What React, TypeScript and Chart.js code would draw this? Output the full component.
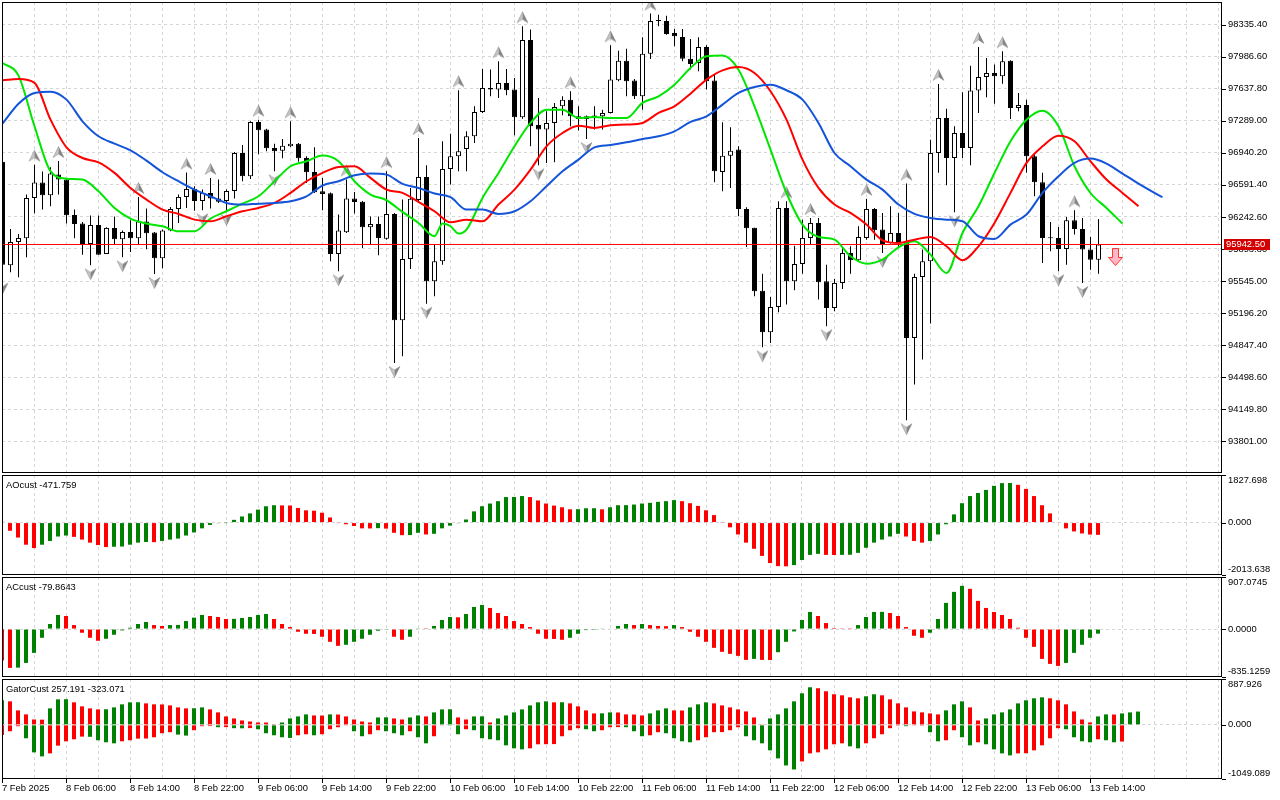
import React, { useEffect, useRef } from 'react';
import { Chart, registerables } from 'chart.js';

Chart.register(...registerables);

// ---------------- DATA ----------------
const opens = [96844,95716,95970,96010,96449,96616,96478,96703,96649,96264,96170,95948,96155,95839,96123,95999,96079,96010,96192,96072,95792,96094,96329,96460,96547,96416,96504,96442,96416,96525,96938,96685,97276,97193,96993,96964,97011,97040,96884,96732,96522,96500,95839,96076,96442,96409,96130,96166,96006,96275,95118,95785,96427,96678,95542,95760,96765,96902,96982,97120,97385,97646,97628,97701,97628,97327,98168,97243,97193,97265,97446,97519,97338,97309,97331,97338,97374,97730,97943,97726,97556,98019,98375,98375,98244,98201,97965,97918,98092,97726,96732,96909,96975,96329,96126,95440,94987,95263,96340,95542,95730,96014,96177,95542,95252,95524,95850,95770,96014,96329,96105,95959,96068,95959,94926,95589,95760,96938,97320,96884,97156,96993,97617,97766,97809,97773,97943,97428,97461,96902,96620,96014,96014,95894,96206,96112,95887,95777];
const highs = [96866,96112,96057,96486,96811,96736,96783,96851,96656,96322,96188,96257,96257,96130,96246,96094,96206,96460,96333,96079,96105,96351,96486,96725,96576,96540,96667,96649,96540,96949,97025,97283,97301,97203,97040,97091,97283,97047,96902,97000,96667,96507,96268,96650,96515,96416,96246,96246,96740,96286,96431,96558,97102,96804,95941,97065,97149,97621,97174,97446,97853,97846,97936,97853,97755,98317,98281,97537,97392,97483,97556,97610,97446,97345,97446,97410,98110,98052,98074,97744,98197,98455,98444,98433,98288,98288,98179,98197,98110,97791,97272,97218,97011,96347,96126,95625,95371,96413,96413,95930,96213,96231,96231,95723,95567,95905,95923,96141,96439,96340,96286,96358,96286,96605,95625,95887,97083,97690,97421,97229,97599,97889,98092,97972,97900,98045,97947,97592,97519,96920,96722,96188,96134,96242,96315,96231,96025,96221];
const lows = [95560,95640,95585,95803,96282,96322,96358,96486,96170,96010,95832,95716,95832,95839,95948,95803,95861,95948,95890,95622,95683,96086,96177,96340,96311,96315,96333,96395,96308,96442,96631,96656,96924,96957,96740,96880,97004,96844,96613,96504,96315,95760,95651,96068,96279,95905,95941,95825,95995,94654,94726,95676,96395,95299,95379,95723,96595,96740,96740,97047,97374,97556,97537,97566,97131,97312,97011,96804,96830,96837,97349,97229,97182,97091,97193,97193,97367,97719,97556,97526,97410,97961,98317,98226,98099,97936,97846,97828,97628,96620,96522,96558,96250,95916,95379,94824,94871,95205,95289,95444,95625,95941,95343,95053,95216,95458,95625,95760,95995,95995,95850,95952,95905,94030,94418,94690,95082,96722,96587,96293,96884,96804,97374,97544,97475,97693,97309,97392,96722,96467,95741,95868,95651,95723,96050,95524,95669,95625];
const closes = [95723,95970,96014,96449,96616,96478,96714,96649,96261,96166,95948,96155,95832,96123,95999,96079,96010,96192,96064,95792,96094,96329,96460,96547,96416,96504,96442,96409,96525,96938,96685,97276,97185,96989,96957,97018,97040,96880,96729,96511,96493,95839,96094,96442,96406,96130,96166,96014,96275,95118,95785,96439,96678,95542,95760,96765,96902,96957,97120,97385,97646,97628,97701,97621,97327,98168,97229,97193,97265,97439,97519,97338,97309,97338,97345,97374,97737,97943,97719,97556,98019,98375,98375,98233,98208,97965,97907,98092,97719,96740,96909,96964,96329,96119,95433,94987,95263,96340,95542,95730,96014,96177,95531,95252,95524,95850,95770,96024,96329,96097,95948,96068,95959,94926,95589,95760,96938,97320,96884,97156,96993,97617,97766,97809,97773,97936,97428,97461,96902,96620,96014,96010,95894,96206,96112,95887,95777,95942.5];

const bidPrice = 95942.5;
const bidText = '95942.50';
const sellArrowBar = 139;

const upFractalBars = [4,7,17,23,26,32,36,43,48,52,57,62,65,71,76,81,98,101,108,113,117,122,125,134];
const downFractalBars = [0,11,15,19,25,28,34,42,49,53,67,73,95,103,110,113,119,132,135];

const jawLine = [[0,97258],[2,97475],[4,97592],[6,97606],[8,97519],[10,97283],[12,97120],[14,97040],[16,96967],[18,96855],[20,96729],[22,96631],[24,96540],[26,96467],[28,96395],[30,96377],[32,96387],[34,96395],[36,96413],[38,96467],[40,96584],[42,96631],[44,96696],[46,96714],[48,96703],[50,96602],[52,96558],[54,96497],[56,96457],[58,96322],[60,96322],[62,96275],[64,96304],[66,96413],[68,96576],[70,96740],[72,96866],[74,97000],[76,97025],[78,97054],[80,97091],[82,97120],[84,97174],[86,97276],[88,97338],[90,97465],[92,97592],[94,97657],[96,97682],[98,97621],[100,97519],[102,97265],[104,96938],[106,96794],[108,96649],[110,96540],[112,96377],[114,96275],[116,96231],[118,96213],[120,96195],[122,96032],[124,96003],[126,96159],[128,96268],[130,96504],[132,96685],[134,96830],[136,96877],[138,96823],[140,96714],[142,96605],[144,96504],[145,96457]];
const teethLine = [[0,97730],[2,97744],[4,97701],[6,97301],[8,97000],[10,96884],[12,96837],[14,96722],[16,96558],[18,96431],[20,96322],[22,96275],[24,96213],[26,96195],[28,96250],[30,96304],[32,96340],[34,96395],[36,96504],[38,96631],[40,96722],[42,96786],[44,96794],[46,96667],[48,96540],[50,96504],[52,96406],[54,96304],[56,96184],[58,96213],[60,96195],[62,96377],[64,96540],[66,96757],[68,97011],[70,97156],[72,97236],[74,97211],[76,97240],[78,97247],[80,97265],[82,97374],[84,97446],[86,97584],[88,97737],[90,97838],[92,97874],[94,97809],[96,97610],[98,97301],[100,96866],[102,96558],[104,96377],[106,96286],[108,96159],[110,95988],[112,95959],[114,95995],[116,96025],[118,95923],[120,95771],[122,95923],[124,96177],[126,96504],[128,96830],[130,97011],[132,97127],[134,97065],[136,96848],[138,96649],[140,96504],[142,96358]];
const lipsLine = [[0,97918],[2,97780],[4,97229],[6,96740],[8,96659],[10,96649],[12,96522],[14,96340],[16,96224],[18,96170],[20,96141],[22,96086],[24,96086],[26,96224],[28,96304],[30,96387],[32,96467],[34,96631],[36,96794],[38,96848],[40,96910],[42,96848],[44,96631],[46,96486],[48,96424],[50,96297],[52,96177],[54,96032],[55,96170],[56,96141],[57,96061],[58,96105],[60,96449],[62,96721],[64,97011],[66,97265],[68,97410],[70,97410],[72,97319],[74,97330],[76,97319],[78,97319],[80,97483],[82,97555],[84,97682],[86,97864],[88,97990],[90,97998],[92,97845],[94,97446],[96,96975],[98,96503],[100,96159],[102,96025],[104,95996],[106,95814],[108,95734],[110,95778],[112,95912],[114,95977],[116,95832],[118,95633],[120,96068],[122,96358],[124,96721],[126,97066],[128,97301],[130,97399],[132,97229],[134,96794],[136,96503],[138,96340],[140,96170]];

const aoValues = [30,-314,-575,-850,-980,-850,-706,-536,-497,-549,-654,-771,-863,-941,-928,-920,-850,-771,-745,-752,-706,-654,-614,-497,-379,-222,-91,-26,-5,105,235,353,497,627,667,660,655,562,471,457,379,196,-10,-65,-131,-222,-225,-215,-232,-392,-484,-480,-392,-457,-431,-222,-118,-26,118,431,627,732,823,980,985,1019,980,850,732,653,588,510,515,549,552,510,588,667,670,693,732,758,797,823,863,823,745,640,471,288,10,-183,-457,-771,-1006,-1281,-1555,-1673,-1680,-1634,-1438,-1242,-1202,-1242,-1245,-1241,-1236,-1163,-967,-771,-654,-536,-431,-536,-706,-771,-706,-457,-65,314,745,1019,1137,1255,1412,1516,1520,1451,1294,1019,667,353,15,-222,-340,-418,-460,-471.759];
const acValues = [-549,-677,-672,-590,-415,-152,88,245,228,70,-64,-152,-204,-169,-99,-23,23,88,123,70,53,70,72,140,199,245,228,210,175,178,193,210,245,263,175,88,35,-47,-82,-85,-134,-222,-292,-274,-222,-169,-99,-29,-5,-134,-187,-134,12,3,53,158,210,205,263,385,420,368,280,228,140,88,35,-82,-169,-172,-187,-152,-82,-18,-2,6,8,53,88,70,88,70,53,50,70,35,-47,-134,-222,-327,-397,-432,-467,-537,-520,-537,-540,-403,-222,-41,158,298,228,105,18,4,3,70,210,298,300,280,228,35,-117,-152,-64,175,456,648,753,701,491,368,298,245,175,23,-152,-310,-520,-607,-642,-590,-415,-274,-152,-79.8643];
const gatorUpper = [475,455,280,202,104,100,319,494,497,436,358,319,299,302,338,397,436,438,416,397,395,377,338,319,321,338,299,241,163,124,85,65,46,44,6,46,124,163,202,182,180,202,200,163,104,65,46,143,146,124,104,143,182,163,241,299,301,143,104,163,165,46,124,182,241,299,377,436,455,436,438,416,358,280,221,223,241,239,202,200,182,221,280,319,280,278,338,397,436,416,377,338,299,260,143,13,124,202,319,455,611,728,709,650,592,572,533,514,553,592,572,494,416,338,260,241,221,202,280,397,455,338,85,124,202,241,299,416,475,514,533,514,475,397,260,104,46,163,202,200,221,241,257.191];
const gatorLower = [-195,-124,-26,-260,-533,-611,-553,-403,-319,-280,-228,-232,-299,-338,-358,-319,-299,-267,-265,-241,-163,-143,-189,-208,-104,-26,-24,-46,-44,-65,-67,-63,-85,-163,-202,-241,-254,-202,-182,-202,-182,-85,-46,-6,-124,-221,-182,-104,-124,-163,-202,-124,-241,-358,-221,-13,-15,-182,-85,-104,-260,-280,-299,-397,-455,-475,-455,-377,-375,-373,-221,-104,-65,-85,-124,-104,-46,-44,-46,-124,-221,-202,-143,-163,-260,-319,-338,-299,-241,-143,-141,-104,-46,-221,-299,-358,-494,-650,-787,-865,-709,-553,-533,-475,-377,-358,-416,-455,-358,-260,-182,-65,-3,-26,-6,-2,-143,-319,-299,-104,-241,-397,-338,-377,-475,-553,-592,-553,-550,-494,-397,-260,-65,-85,-241,-319,-338,-280,-299,-338,-323.071];

const priceTicks = [98335.40,97986.60,97637.80,97289.00,96940.20,96591.40,96242.60,95893.80,95545.00,95196.20,94847.40,94498.60,94149.80,93801.00];
const aoTicks = [1827.698, 0, -2013.638];
const acTicks = [907.0745, 0, -835.1259];
const gatorTicks = [887.926, 0, -1049.089];
const aoTickText = ['1827.698', '0.000', '-2013.638'];
const acTickText = ['907.0745', '0.0000', '-835.1259'];
const gatorTickText = ['887.926', '0.000', '-1049.089'];

const timeLabelBars = [0,8,16,24,32,40,48,56,64,72,80,88,96,104,112,120,128,136];
const timeLabels = ['7 Feb 2025','8 Feb 06:00','8 Feb 14:00','8 Feb 22:00','9 Feb 06:00','9 Feb 14:00','9 Feb 22:00','10 Feb 06:00','10 Feb 14:00','10 Feb 22:00','11 Feb 06:00','11 Feb 14:00','11 Feb 22:00','12 Feb 06:00','12 Feb 14:00','12 Feb 22:00','13 Feb 06:00','13 Feb 14:00'];

const aoTitle = 'AOcust -471.759';
const acTitle = 'ACcust -79.8643';
const gatorTitle = 'GatorCust 257.191 -323.071';

// ---------------- STYLE ----------------
const GREEN = '#008000';
const RED = '#ff0000';
const GRID = '#d6d6d6';
const FONT = '9.4px "Liberation Sans", Arial, sans-serif';
const VISIBLE_BARS = 152.5;
const gridBars = Array.from({ length: 39 }, (_, k) => k * 4);

function xScale(min: number) {
  return {
    type: 'linear',
    min,
    max: min + VISIBLE_BARS,
    offset: false,
    grid: { offset: false, color: GRID, lineWidth: 1, drawTicks: false },
    border: { display: false, dash: [3, 3] },
    ticks: { display: false },
    afterBuildTicks: (s: any) => { s.ticks = gridBars.map((v) => ({ value: v })); },
  };
}

function yScale(min: number, max: number, vals: number[], z = 0) {
  return {
    position: 'right',
    min,
    max,
    z,
    afterFit: (s: any) => { s.width = 58; },
    afterBuildTicks: (s: any) => { s.ticks = vals.map((v) => ({ value: v })); },
    ticks: { display: false },
    grid: { color: GRID, lineWidth: 1, drawTicks: false },
    border: { display: false, dash: [3, 3] },
  };
}

function trendColors(vals: number[], first: string) {
  return vals.map((v, i) => (i === 0 ? first : v > vals[i - 1] ? GREEN : RED));
}
function magnitudeColors(vals: number[], first: string) {
  return vals.map((v, i) => (i === 0 ? first : Math.abs(v) > Math.abs(vals[i - 1]) ? GREEN : RED));
}

function makeArrow(up: boolean) {
  const c = document.createElement('canvas');
  c.width = 13;
  c.height = 40;
  const g = c.getContext('2d')!;
  const cy = up ? 11 : 29;
  const s = up ? 1 : -1;
  const tip = cy - 5.5 * s;
  const base = cy + 5.5 * s;
  const notch = cy + 2 * s;
  g.beginPath();
  g.moveTo(6.5, tip); g.lineTo(1, base); g.lineTo(6.5, notch); g.closePath();
  g.fillStyle = '#c4c4c4'; g.fill();
  g.beginPath();
  g.moveTo(6.5, tip); g.lineTo(12, base); g.lineTo(6.5, notch); g.closePath();
  g.fillStyle = '#858585'; g.fill();
  g.beginPath();
  g.moveTo(6.5, tip); g.lineTo(1, base); g.lineTo(6.5, notch); g.lineTo(12, base); g.closePath();
  g.strokeStyle = 'rgba(110,110,110,0.6)'; g.lineWidth = 0.6; g.stroke();
  return c;
}

function panelPlugin(vals: number[], texts: string[], title?: string, withTime?: boolean) {
  return {
    id: 'panelDeco',
    afterDraw(chart: any) {
      const { ctx, chartArea: a, scales } = chart;
      const y = scales.y;
      const x = scales.x;
      ctx.save();
      ctx.strokeStyle = '#000';
      ctx.lineWidth = 1;
      ctx.strokeRect(a.left + 0.5, a.top + 0.5, a.right - a.left - 1, a.bottom - a.top - 1);
      ctx.font = FONT;
      ctx.fillStyle = '#000';
      ctx.textBaseline = 'middle';
      ctx.textAlign = 'left';
      vals.forEach((v, i) => {
        const py = y.getPixelForValue(v);
        const ly = Math.round(py) + 0.5;
        ctx.beginPath();
        ctx.moveTo(a.right, ly);
        ctx.lineTo(a.right + 4, ly);
        ctx.stroke();
        const ty = Math.min(Math.max(py, a.top + 5), a.bottom - 6);
        ctx.fillText(texts[i], a.right + 6, ty);
      });
      if (title) ctx.fillText(title, a.left + 4, a.top + 10);
      if (withTime) {
        timeLabelBars.forEach((b, i) => {
          const px = x.getPixelForValue(b);
          const lx = Math.round(px) + 0.5;
          ctx.beginPath();
          ctx.moveTo(lx, a.bottom);
          ctx.lineTo(lx, a.bottom + 4);
          ctx.stroke();
          ctx.fillText(timeLabels[i], Math.round(px), a.bottom + 9);
        });
      }
      ctx.restore();
    },
  };
}

const bidPlugin = {
  id: 'bidTag',
  afterDraw(chart: any) {
    const { ctx, chartArea: a, scales } = chart;
    const py = scales.y.getPixelForValue(bidPrice);
    ctx.save();
    ctx.fillStyle = '#d20000';
    ctx.fillRect(a.right + 2, Math.round(py) - 5, 46, 11);
    ctx.font = FONT;
    ctx.fillStyle = '#ffffff';
    ctx.textBaseline = 'middle';
    ctx.textAlign = 'left';
    ctx.fillText(bidText, a.right + 4, Math.round(py) + 0.5);
    const ax = Math.round(scales.x.getPixelForValue(sellArrowBar)) + 0.5;
    const top = Math.round(py) + 4.5;
    ctx.beginPath();
    ctx.moveTo(ax - 3, top);
    ctx.lineTo(ax + 3, top);
    ctx.lineTo(ax + 3, top + 9);
    ctx.lineTo(ax + 7, top + 9);
    ctx.lineTo(ax, top + 17);
    ctx.lineTo(ax - 7, top + 9);
    ctx.lineTo(ax - 3, top + 9);
    ctx.closePath();
    ctx.fillStyle = '#ffb6c8';
    ctx.fill();
    ctx.strokeStyle = '#ff3a2a';
    ctx.lineWidth = 1;
    ctx.stroke();
    ctx.restore();
  },
};

const baseOptions = (pad: any, scales: any) => ({
  responsive: false,
  animation: false,
  events: [],
  layout: { padding: pad, autoPadding: false },
  plugins: { legend: { display: false }, tooltip: { enabled: false } },
  scales,
});

export default function App() {
  const mainRef = useRef<HTMLCanvasElement>(null);
  const aoRef = useRef<HTMLCanvasElement>(null);
  const acRef = useRef<HTMLCanvasElement>(null);
  const gatorRef = useRef<HTMLCanvasElement>(null);

  useEffect(() => {
    document.body.style.margin = '0';
    const charts: Chart[] = [];
    const idx = opens.map((_, i) => i);
    const bodyColors = idx.map((i) => (closes[i] >= opens[i] ? '#ffffff' : '#000000'));
    const upImg = makeArrow(true);
    const downImg = makeArrow(false);
    const lineDs = (pts: number[][], color: string) => ({
      type: 'line',
      data: pts.map(([x, y]) => ({ x, y })),
      borderColor: color,
      borderWidth: 2,
      pointRadius: 0,
      cubicInterpolationMode: 'monotone',
      order: 0,
    });

    charts.push(new Chart(mainRef.current!, {
      type: 'bar',
      data: {
        datasets: [
          lineDs(jawLine, '#1454d8'),
          lineDs(teethLine, '#ff0000'),
          lineDs(lipsLine, '#00e600'),
          { type: 'line', data: [{ x: -2, y: bidPrice }, { x: 160, y: bidPrice }], borderColor: '#ff0000', borderWidth: 1, pointRadius: 0, order: 1 },
          { type: 'scatter', data: upFractalBars.map((i) => ({ x: i, y: highs[i] })), pointStyle: upImg, pointRadius: 5, order: 2 },
          { type: 'scatter', data: downFractalBars.map((i) => ({ x: i, y: lows[i] })), pointStyle: downImg, pointRadius: 5, order: 2 },
          { type: 'bar', data: idx.map((i) => ({ x: i, y: [opens[i], closes[i]] })), backgroundColor: bodyColors, borderColor: '#000', borderWidth: 1, borderSkipped: false, barThickness: 5, minBarLength: 1, grouped: false, inflateAmount: 0, order: 3 },
          { type: 'bar', data: idx.map((i) => ({ x: i, y: [lows[i], highs[i]] })), backgroundColor: '#000', borderWidth: 0, barThickness: 1, grouped: false, inflateAmount: 0, order: 4 },
        ] as any,
      },
      options: baseOptions({ left: 2, right: 0, top: 2, bottom: 1 }, {
        x: xScale(-0.0625),
        y: yScale(93455.8, 98581.4, priceTicks),
      }) as any,
      plugins: [panelPlugin(priceTicks, priceTicks.map((v) => v.toFixed(2))), bidPlugin],
    }));

    const histDs = (vals: number[], colors: string[]) => ({
      type: 'bar',
      data: vals.map((v, i) => ({ x: i, y: v })),
      backgroundColor: colors,
      borderWidth: 0,
      barThickness: 4,
      grouped: false,
      inflateAmount: 0,
    });

    charts.push(new Chart(aoRef.current!, {
      type: 'bar',
      data: { datasets: [histDs(aoValues, trendColors(aoValues, RED))] as any },
      options: baseOptions({ left: 2, right: 0, top: 1, bottom: 1 }, {
        x: xScale(0),
        y: yScale(aoTicks[2], aoTicks[0], [0], 1),
      }) as any,
      plugins: [panelPlugin(aoTicks, aoTickText, aoTitle)],
    }));

    charts.push(new Chart(acRef.current!, {
      type: 'bar',
      data: { datasets: [histDs(acValues, trendColors(acValues, RED))] as any },
      options: baseOptions({ left: 2, right: 0, top: 1, bottom: 1 }, {
        x: xScale(0),
        y: yScale(acTicks[2], acTicks[0], [0], 1),
      }) as any,
      plugins: [panelPlugin(acTicks, acTickText, acTitle)],
    }));

    charts.push(new Chart(gatorRef.current!, {
      type: 'bar',
      data: {
        datasets: [
          histDs(gatorUpper, trendColors(gatorUpper, GREEN)),
          histDs(gatorLower, magnitudeColors(gatorLower, RED)),
        ] as any,
      },
      options: baseOptions({ left: 2, right: 0, top: 1, bottom: 21 }, {
        x: xScale(0),
        y: yScale(gatorTicks[2], gatorTicks[0], [0], 1),
      }) as any,
      plugins: [panelPlugin(gatorTicks, gatorTickText, gatorTitle, true)],
    }));

    return () => charts.forEach((c) => c.destroy());
  }, []);

  const cv = (top: number, h: number): React.CSSProperties => ({
    position: 'absolute', left: 0, top, width: 1280, height: h, display: 'block',
  });

  return (
    <div style={{ position: 'fixed', left: 0, top: 0, width: 1280, height: 800, background: '#ffffff', overflow: 'hidden' }}>
      <canvas ref={mainRef} width={1280} height={474} style={cv(0, 474)} />
      <canvas ref={aoRef} width={1280} height={102} style={cv(474, 102)} />
      <canvas ref={acRef} width={1280} height={102} style={cv(576, 102)} />
      <canvas ref={gatorRef} width={1280} height={122} style={cv(678, 122)} />
    </div>
  );
}
